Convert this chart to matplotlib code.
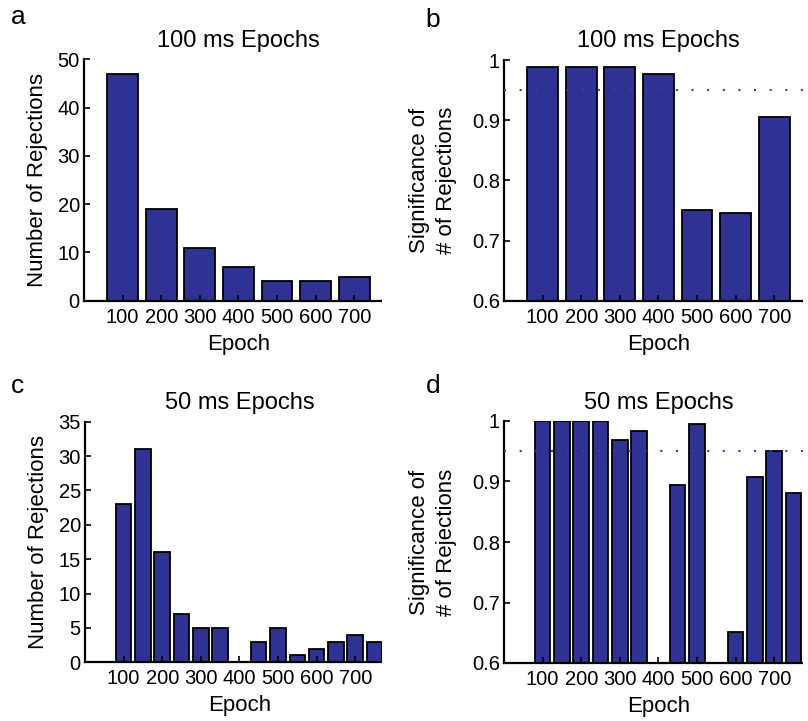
import matplotlib
matplotlib.use("Agg")
import matplotlib.pyplot as plt
from matplotlib.patches import Rectangle

plt.rcParams['font.family'] = ['Liberation Sans', 'DejaVu Sans']

# ---- data ----
epochs100 = [100, 200, 300, 400, 500, 600, 700]
rejections100 = [47, 19, 11, 7, 4, 4, 5]
significance100 = [0.988, 0.988, 0.988, 0.977, 0.750, 0.746, 0.905]

epochs50 = [100, 150, 200, 250, 300, 350, 400, 450, 500, 550, 600, 650, 700, 750]
rejections50 = [23, 31, 16, 7, 5, 5, 0, 3, 5, 1, 2, 3, 4, 3]
significance50 = [1.0, 1.0, 1.0, 1.0, 0.968, 0.984, 0.45, 0.894, 0.995, 0.55,
                  0.652, 0.908, 0.951, 0.881]

xticks = [100, 200, 300, 400, 500, 600, 700]
xticklabels = ['100', '200', '300', '400', '500', '600', '700']
sig_ticks = [0.6, 0.7, 0.8, 0.9, 1.0]
sig_ticklabels = ['0.6', '0.7', '0.8', '0.9', '1']
sig_threshold = 0.95

W, H = 808, 721
fig = plt.figure(figsize=(W / 100, H / 100), dpi=100)

def px_axes(left, top, right, bottom):
    return fig.add_axes([left / W, 1 - bottom / H, (right - left) / W, (bottom - top) / H])

BAR = '#303293'
TICKFS = 14.5
LABFS = 16
TITFS = 17

def style(ax):
    ax.spines['top'].set_visible(False)
    ax.spines['right'].set_visible(False)
    for s in ('left', 'bottom'):
        ax.spines[s].set_linewidth(1.6)
    ax.tick_params(direction='in', length=4, width=1.2, labelsize=TICKFS, pad=3)
    ax.tick_params(axis='x', pad=5)
    ax.set_xlim(0, 800)
    ax.set_xticks(xticks)
    ax.set_xticklabels(xticklabels)
    ax.set_xlabel('Epoch', fontsize=LABFS, labelpad=5)

def threshold(ax):
    ax.axhline(sig_threshold, color='#3a3fb0', linestyle=(0, (1, 6.5)),
               linewidth=1.5, zorder=5)

# a
axa = px_axes(84, 59.3, 392.8, 300.7)
axa.bar(epochs100, rejections100, width=80, color=BAR, edgecolor='black', linewidth=1.3)
axa.set_ylim(0, 50)
axa.set_yticks([0, 10, 20, 30, 40, 50])
style(axa)
axa.set_ylabel('Number of Rejections', fontsize=LABFS, labelpad=7)
axa.set_title('100 ms Epochs', fontsize=TITFS, pad=9)

# b
axb = px_axes(504, 60, 812.8, 300.7)
axb.bar(epochs100, significance100, width=80, color=BAR, edgecolor='black', linewidth=1.3)
threshold(axb)
axb.set_ylim(0.6, 1.0)
axb.set_yticks(sig_ticks)
axb.set_yticklabels(sig_ticklabels)
style(axb)
axb.set_ylabel('Significance of\n# of Rejections', fontsize=LABFS, labelpad=11,
               linespacing=1.35)
axb.set_title('100 ms Epochs', fontsize=TITFS, pad=9)

# c
axc = px_axes(85, 421.7, 393.8, 662.3)
axc.bar(epochs50, rejections50, width=40, color=BAR, edgecolor='black', linewidth=1.3)
axc.set_ylim(0, 35)
axc.set_yticks([0, 5, 10, 15, 20, 25, 30, 35])
style(axc)
axc.set_ylabel('Number of Rejections', fontsize=LABFS, labelpad=7)
axc.set_title('50 ms Epochs', fontsize=TITFS, pad=9)

# d
axd = px_axes(504, 421, 812.8, 663)
axd.bar(epochs50, significance50, width=40, color=BAR, edgecolor='black', linewidth=1.3)
threshold(axd)
axd.set_ylim(0.6, 1.0)
axd.set_yticks(sig_ticks)
axd.set_yticklabels(sig_ticklabels)
style(axd)
axd.set_ylabel('Significance of\n# of Rejections', fontsize=LABFS, labelpad=11,
               linespacing=1.35)
axd.set_title('50 ms Epochs', fontsize=TITFS, pad=9)

# panel letters
for lab, x, y in [('a', 18, 17), ('b', 433, 20), ('c', 18, 386), ('d', 433, 386)]:
    fig.text(x / W, 1 - y / H, lab, fontsize=19, ha='center', va='center')

# cropped edges of the original panels
fig.patches.append(Rectangle((382 / W, 0), 20 / W, 1, transform=fig.transFigure,
                             facecolor='white', edgecolor='none', zorder=20))
fig.patches.append(Rectangle((803 / W, 0), 6 / W, 1, transform=fig.transFigure,
                             facecolor='white', edgecolor='none', zorder=20))

fig.savefig('out.png', dpi=100, facecolor='white')
